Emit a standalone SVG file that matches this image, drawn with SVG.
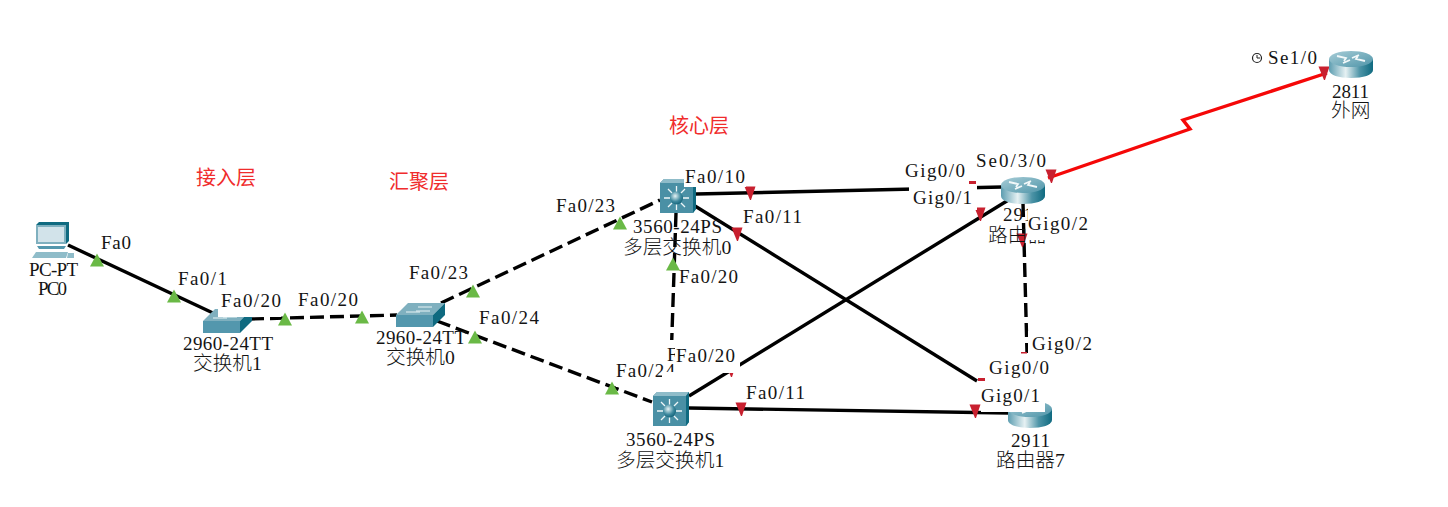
<svg xmlns="http://www.w3.org/2000/svg" width="1448" height="507" viewBox="0 0 1448 507">
<style>
text{font-family:"Liberation Serif","Noto Sans CJK SC",serif;font-size:19px;fill:#141414;font-weight:300}
text.c{font-size:19.700px}
text.h{fill:#f02c2c;font-size:20px;font-weight:400;font-family:"Noto Sans CJK SC",sans-serif}
.l{fill:none;stroke:#000;stroke-width:3.400}
.d{stroke-dasharray:14 6}
.r{fill:none;stroke:#f50808;stroke-width:3.400}
.g{fill:#6ab946}
.e{fill:#c8202f}
.m{fill:#fff}
</style>
<defs>
<linearGradient id="rb" x1="0" x2="1" y1="0" y2="0"><stop offset="0" stop-color="#5c9db0"/><stop offset=".38" stop-color="#e6f1f3"/><stop offset=".7" stop-color="#4d94a7"/><stop offset="1" stop-color="#0f6a80"/></linearGradient>
<linearGradient id="rt" x1="0" x2="1" y1="0" y2="1"><stop offset="0" stop-color="#a8cdd7"/><stop offset="1" stop-color="#4f95a9"/></linearGradient>
<radialGradient id="ball" cx=".4" cy=".35" r=".7"><stop offset="0" stop-color="#e6f3f5"/><stop offset=".6" stop-color="#3f8a9f"/><stop offset="1" stop-color="#0f5f75"/></radialGradient>
<g id="router">
<path d="M0 8V19C0 24 10 27 22 27S44 24 44 19V8Z" fill="url(#rb)"/>
<ellipse cx="22" cy="8" rx="22" ry="8" fill="url(#rt)"/>
<path d="M8 5l9 2-2 3M14 12l7-3M36 10l-9-2 2-3M30 4l-7 3" fill="none" stroke="#f2f8f9" stroke-width="1.800"/>
</g>
<g id="mls">
<path d="M0 4L4 0H36V30L33 34H0Z" fill="#3f8398"/>
<path d="M0 4L4 0H36L33 4Z" fill="#8fbcc9"/>
<path d="M33 4L36 0V30L33 34Z" fill="#0f6a80"/>
<rect y="4" width="33" height="30" fill="#4a90a5"/>
<path d="M16.500 7V13M16.500 25V31M4 19H10M23 19H29M8 10L12 14M25 10L21 14M8 28L12 24M25 28L21 24" stroke="#eef6f8" stroke-width="1.300" fill="none"/>
<circle cx="16.500" cy="19" r="6.500" fill="url(#ball)"/>
</g>
<g id="switch">
<path d="M0 12L12 0H49L37 12Z" fill="#7fb0bf"/>
<path d="M10 9H24M22 4H36M20 8H34" stroke="#e8f3f5" stroke-width="1"/>
<rect y="12" width="37" height="12" fill="#5397ad"/>
<path d="M37 12L49 0V12L37 24Z" fill="#0f6a80"/>
</g>
<path id="up" d="M-7 6.500L0-6.500L7 6.500Z"/>
<path id="dn" d="M-5.500-6.500H5.500L1 7H0Z"/>
</defs>
<rect width="1448" height="507" fill="#fff"/>
<g id="connectors">
<path class="l" d="M68 245L213 313"/>
<path class="l d" d="M250 319L397 315"/>
<path class="l d" d="M441 303L660 200"/>
<path class="l d" d="M437 321L652 402"/>
<path class="l d" d="M676 213L670 392"/>
<path class="l" d="M689 396L1015 196"/>
<path class="l" d="M696 194L1002 187"/>
<path class="l" d="M695 206L977 381"/>
<path class="l" d="M689 408L1008 413"/>
<path class="l d" d="M1023 203L1027 353"/>
<path class="r" d="M1048 178L1190 129L1183 120L1327 73"/>
<g class="g">
<use href="#up" x="97" y="260"/><use href="#up" x="174" y="296"/><use href="#up" x="285" y="319"/><use href="#up" x="362" y="317"/>
<use href="#up" x="473" y="291"/><use href="#up" x="620" y="223"/><use href="#up" x="475" y="337"/><use href="#up" x="612" y="388"/>
<use href="#up" x="673" y="264"/>
</g>
<g class="e">
<use href="#dn" x="750" y="193"/><use href="#dn" x="737" y="234"/><use href="#dn" x="741" y="409"/><use href="#dn" x="975" y="411"/>
<use href="#dn" x="980" y="214"/><use href="#dn" x="1022" y="240"/><use href="#dn" x="1051" y="176"/><use href="#dn" x="1324" y="73"/>
<use href="#dn" x="731" y="370"/>
<rect x="969" y="181" width="7" height="3"/><rect x="978" y="378" width="7" height="3"/><rect x="1021" y="352" width="6" height="1.500"/>
</g>
</g>
<g id="pc0">
<path d="M36 225L39 222H69V241L66 244H36Z" fill="#0f6a80"/>
<rect x="36" y="225" width="30" height="19" fill="#7fb0bf"/>
<rect x="38" y="227" width="26" height="15" fill="#d2e3ea"/>
<path d="M37 246H66L64 249H39Z" fill="#5397ad"/>
<path d="M36 252H68L66 258H32Z" fill="#8fbcc9"/>
<path d="M68 253H74V258H67Z" fill="#8fbcc9"/>
<text x="29" y="276" textLength="49">PC-PT</text>
<text x="38" y="295" textLength="29">PC0</text>
</g>
<g id="switch1">
<use href="#switch" x="203" y="309"/>
<text x="183" y="350" textLength="90">2960-24TT</text>
<text class="c" x="193" y="370">交换机1</text>
</g>
<g id="switch0">
<use href="#switch" x="396" y="303"/>
<text x="376" y="344" textLength="90">2960-24TT</text>
<text class="c" x="386" y="364">交换机0</text>
</g>
<g id="mls0">
<use href="#mls" x="660" y="179"/>
<text x="633" y="233" textLength="89">3560-24PS</text>
<text class="c" x="623" y="254">多层交换机0</text>
</g>
<g id="mls1">
<use href="#mls" x="653" y="392"/>
<text x="626" y="446" textLength="89">3560-24PS</text>
<text class="c" x="616" y="467">多层交换机1</text>
</g>
<g id="router0">
<use href="#router" x="1001" y="177"/>
<text x="1003" y="221" textLength="40">2911</text>
<text class="c" x="988" y="242">路由器</text>
</g>
<g id="router7">
<use href="#router" x="1008" y="401"/>
<text x="1011" y="447" textLength="39">2911</text>
<text class="c" x="996" y="467">路由器7</text>
</g>
<g id="router-ext">
<use href="#router" x="1329" y="51"/>
<text x="1332" y="98" textLength="37">2811</text>
<text class="c" x="1331" y="117">外网</text>
</g>
<g id="port-labels">
<g class="m">
<rect x="218" y="292" width="63" height="25"/>
<rect x="684" y="165" width="62" height="22"/>
<rect x="909" y="184" width="68" height="8"/>
<rect x="905" y="162" width="64" height="22"/>
<rect x="912" y="190" width="65" height="20"/>
<rect x="1028" y="208" width="62" height="32"/>
<rect x="1028" y="331" width="64" height="22"/>
<rect x="1027" y="353" width="66" height="10"/>
<rect x="985" y="356" width="66" height="25"/>
<rect x="981" y="385" width="64" height="27"/>
<rect x="664" y="340" width="76" height="33"/>
<rect x="616" y="360" width="59" height="27"/>
</g>
<text x="101" y="249" textLength="30">Fa0</text>
<text x="178" y="285" textLength="49">Fa0/1</text>
<text x="221" y="307" textLength="60">Fa0/20</text>
<text x="298" y="306" textLength="60">Fa0/20</text>
<text x="409" y="279" textLength="59">Fa0/23</text>
<text x="479" y="324" textLength="60">Fa0/24</text>
<text x="556" y="212" textLength="59">Fa0/23</text>
<text x="685" y="183" textLength="60">Fa0/10</text>
<text x="743" y="223" textLength="59">Fa0/11</text>
<text x="679" y="283" textLength="59">Fa0/20</text>
<text x="667" y="361">F</text>
<rect class="m" x="675" y="345" width="62" height="25"/>
<text x="676" y="362" textLength="59">Fa0/20</text>
<text x="616" y="377" textLength="59">Fa0/24</text>
<rect class="m" x="662" y="372" width="14" height="9"/>
<text x="746" y="399" textLength="59">Fa0/11</text>
<text x="976" y="167" textLength="70">Se0/3/0</text>
<text x="905" y="177" textLength="60">Gig0/0</text>
<text x="913" y="204" textLength="59">Gig0/1</text>
<text x="1028" y="230" textLength="60">Gig0/2</text>
<text x="1032" y="350" textLength="60">Gig0/2</text>
<text x="989" y="374" textLength="60">Gig0/0</text>
<text x="981" y="402" textLength="59">Gig0/1</text>
<circle cx="1257" cy="58" r="4.500" fill="none" stroke="#222" stroke-width="1.200"/>
<path d="M1257 55V58H1260" fill="none" stroke="#222"/>
<text x="1268" y="64" textLength="49">Se1/0</text>
</g>
<g id="layer-titles">
<text class="h" x="196" y="185">接入层</text>
<text class="h" x="389" y="189">汇聚层</text>
<text class="h" x="669" y="133">核心层</text>
</g>
</svg>
